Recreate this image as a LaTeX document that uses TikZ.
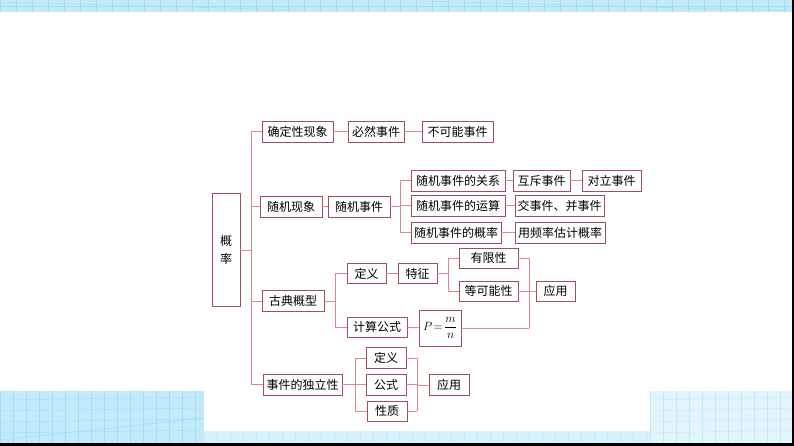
\documentclass[tikz,border=0pt]{standalone}
\usepackage{fontspec}
\setmainfont{Liberation Serif}
\newfontfamily\cjk{Noto Sans CJK SC}
\definecolor{boxc}{HTML}{A0505A}
\definecolor{linec}{HTML}{D98A8C}
\definecolor{bandA}{HTML}{C2EAFA}
\definecolor{bandB}{HTML}{E2F5FC}
\definecolor{gridc}{HTML}{A6DCF2}
\tikzset{
  bx/.style={draw=boxc, line width=0.9pt, rectangle, inner sep=0pt, minimum height=21pt,
    font=\cjk\fontsize{12}{14}\selectfont, text=black},
  ln/.style={draw=linec, line width=0.9pt},
}
\begin{document}
\begin{tikzpicture}[x=1pt,y=-1pt]
\useasboundingbox (0,0) rectangle (794,446);
% background bands
\fill[bandA] (0,0) rectangle (792,12);
\foreach \x in {0,16,...,784} \draw[gridc,line width=0.4pt] (\x,0) -- (\x,12);
\draw[gridc,line width=0.4pt] (0,6) -- (792,6);
\draw[gridc,line width=0.5pt] (0,2) -- (300,10) (420,1) -- (792,11);
\fill[bandA] (0,391) rectangle (204,443);
\fill[bandB] (650,391) rectangle (792,443);
\fill[bandB!70!bandA] (204,431) rectangle (650,443);
\begin{scope}
\clip (0,391) rectangle (204,443);
\foreach \x in {0,13,...,204} \draw[gridc,line width=0.4pt] (\x,391) -- (\x,443);
\foreach \y in {400,411,...,443} \draw[gridc,line width=0.4pt] (0,\y) -- (204,\y-3);
\draw[gridc,line width=0.6pt] (0,440) -- (204,418);
\end{scope}
\begin{scope}
\clip (650,391) rectangle (792,443);
\foreach \x in {650,663,...,792} \draw[bandA,line width=0.4pt] (\x,391) -- (\x,443);
\foreach \y in {400,411,...,443} \draw[bandA,line width=0.4pt] (650,\y) -- (792,\y-3);
\end{scope}
\begin{scope}
\clip (204,431) rectangle (650,443);
\foreach \x in {204,217,...,650} \draw[bandA,line width=0.4pt] (\x,431) -- (\x,443);
\end{scope}
\fill[black] (0,443) rectangle (794,446);
\fill[black] (792,0) rectangle (794,446);

% nodes
\node[bx, minimum width=28pt, minimum height=113pt, align=center,
  font=\cjk\fontsize{12}{18}\selectfont] (gl) at (226,250) {概\\率};
\node[bx, minimum width=71pt] (a1) at (297.5,131.5) {确定性现象};
\node[bx, minimum width=56pt] (a2) at (376,131.5) {必然事件};
\node[bx, minimum width=71pt] (a3) at (457.5,131.5) {不可能事件};
\node[bx, minimum width=62pt] (b1) at (291,206.5) {随机现象};
\node[bx, minimum width=62pt] (b2) at (359,206.5) {随机事件};
\node[bx, minimum width=94pt] (c1) at (458,180.5) {随机事件的关系};
\node[bx, minimum width=57pt] (c2) at (541.5,180.5) {互斥事件};
\node[bx, minimum width=59pt] (c3) at (611.5,180.5) {对立事件};
\node[bx, minimum width=94pt] (d1) at (458,205.5) {随机事件的运算};
\node[bx, minimum width=89pt] (d2) at (559.5,205.5) {交事件、并事件};
\node[bx, minimum width=90pt] (e1) at (456,232.5) {随机事件的概率};
\node[bx, minimum width=90pt] (e2) at (560,232.5) {用频率估计概率};
\node[bx, minimum width=62pt] (f) at (293,301) {古典概型};
\node[bx, minimum width=39pt, minimum height=20pt] (g1) at (366.5,273.5) {定义};
\node[bx, minimum width=39pt, minimum height=20pt] (g2) at (417.5,273.5) {特征};
\node[bx, minimum width=59pt, minimum height=20pt] (h1) at (488.5,258) {有限性};
\node[bx, minimum width=59pt, minimum height=20pt] (h2) at (488.5,291) {等可能性};
\node[bx, minimum width=39pt, minimum height=20pt] (ap1) at (555.5,291) {应用};
\node[bx, minimum width=60pt, minimum height=20pt] (k1) at (377,327) {计算公式};
\node[bx, minimum width=42pt, minimum height=36pt, font=\fontsize{12}{14}\selectfont] (k2) at (440,328) {$P\!=\!\displaystyle\frac{m}{n}$};
\node[bx, minimum width=79pt] (m) at (302.5,384.5) {事件的独立性};
\node[bx, minimum width=40pt] (n1) at (386,358) {定义};
\node[bx, minimum width=40pt] (n2) at (386,384.5) {公式};
\node[bx, minimum width=40pt, minimum height=20pt] (n3) at (387,411) {性质};
\node[bx, minimum width=40pt] (ap2) at (449,385) {应用};

% trunk
\coordinate (T) at (251,0);
\draw[ln] (gl.east) -- (gl.east -| T);
\draw[ln] (a1.west -| T) -- (m.west -| T);
\foreach \n in {a1,b1,f,m} \draw[ln] (\n.west -| T) -- (\n.west);
\draw[ln] (a1) -- (a2); \draw[ln] (a2) -- (a3);
\draw[ln] (b1) -- (b2);
% random events branch
\coordinate (R) at (400,0);
\draw[ln] (b2.east) -- (b2.east -| R);
\draw[ln] (c1.west -| R) -- (e1.west -| R);
\foreach \n in {c1,d1,e1} \draw[ln] (\n.west -| R) -- (\n.west);
\draw[ln] (c1) -- (c2); \draw[ln] (c2) -- (c3);
\draw[ln] (d1) -- (d2);
\draw[ln] (e1) -- (e2);
% classical
\coordinate (G) at (335,0);
\draw[ln] (f.east) -- (f.east -| G);
\draw[ln] (g1.west -| G) -- (k1.west -| G);
\foreach \n in {g1,k1} \draw[ln] (\n.west -| G) -- (\n.west);
\draw[ln] (g1) -- (g2);
\coordinate (H) at (448,0);
\draw[ln] (g2.east) -- (g2.east -| H);
\draw[ln] (h1.west -| H) -- (h2.west -| H);
\foreach \n in {h1,h2} \draw[ln] (\n.west -| H) -- (\n.west);
\draw[ln] (k1) -- (k2);
\coordinate (A) at (529,0);
\draw[ln] (h1.east -| A) -- (k2.east -| A);
\foreach \n in {h1,h2,k2} \draw[ln] (\n.east) -- (\n.east -| A);
\draw[ln] (ap1.west -| A) -- (ap1.west);
% independence
\coordinate (M) at (355,0);
\draw[ln] (m.east) -- (m.east -| M);
\draw[ln] (n1.west -| M) -- (n3.west -| M);
\foreach \n in {n1,n2,n3} \draw[ln] (\n.west -| M) -- (\n.west);
\coordinate (N) at (417,0);
\draw[ln] (n1.east -| N) -- (n3.east -| N);
\foreach \n in {n1,n2,n3} \draw[ln] (\n.east) -- (\n.east -| N);
\draw[ln] (ap2.west -| N) -- (ap2.west);
\end{tikzpicture}
\end{document}
